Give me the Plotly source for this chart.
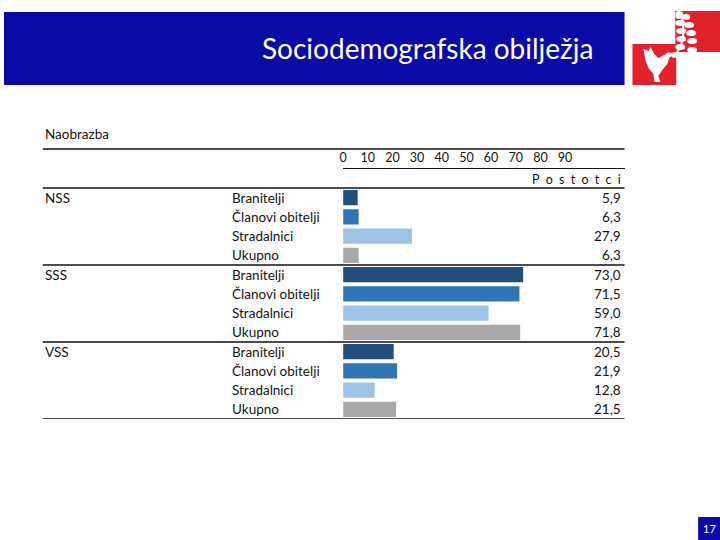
import plotly.graph_objects as go

# ---- data ----
groups = ["NSS", "SSS", "VSS"]
subgroups = ["Branitelji", "Članovi obitelji", "Stradalnici", "Ukupno"]
nss = [5.9, 6.3, 27.9, 6.3]
sss = [73.0, 71.5, 59.0, 71.8]
vss = [20.5, 21.9, 12.8, 21.5]
tick_vals = [0, 10, 20, 30, 40, 50, 60, 70, 80, 90]
sub_colors = ["#224E7B", "#2E75B6", "#9DC3E6", "#AAA8A9"]

title = "Sociodemografska obilježja"
section = "Naobrazba"
unit_label = "\u2002".join("Postotci")
page_no = "17"

W, H = 720, 540
FONT = "Lato, 'Open Sans', sans-serif"
TXT = "#141414"

def px(x):
    return x / W

def py(y):
    return 1 - y / H

values = nss + sss + vss
row_ids = list(range(len(values)))
colors = sub_colors * 3

fig = go.Figure()
fig.add_trace(go.Bar(
    x=values, y=row_ids, orientation="h",
    marker=dict(color=colors, line=dict(width=0)),
    width=0.8, hoverinfo="skip", showlegend=False,
))

x0, x1 = 341, 624
scale = 2.48  # px per percent
fig.update_layout(
    width=W, height=H,
    margin=dict(l=0, r=0, t=0, b=0),
    paper_bgcolor="white", plot_bgcolor="rgba(0,0,0,0)",
    font=dict(family=FONT, color=TXT),
    xaxis=dict(
        domain=[px(x0), px(x1)], range=[0, (x1 - x0) / scale],
        side="top", anchor="free", position=py(168),
        tickvals=tick_vals, ticktext=[str(v) for v in tick_vals],
        tickfont=dict(size=12.5, color=TXT),
        showgrid=False, zeroline=False, showline=True, linecolor=TXT, linewidth=1,
        ticks="", ticklabelstandoff=1,
        fixedrange=True,
    ),
    yaxis=dict(
        domain=[py(419), py(188)], range=[11.5, -0.5],
        showticklabels=False, showgrid=False, zeroline=False, showline=False,
        fixedrange=True,
    ),
)

def path_px(points):
    s = ""
    for i, (x, y) in enumerate(points):
        s += ("M" if i == 0 else "L") + f"{px(x):.5f},{py(y):.5f} "
    return s + "Z"

shapes = []
# header band
shapes.append(dict(type="rect", xref="paper", yref="paper",
                   x0=0, x1=px(624), y0=py(85), y1=py(12),
                   fillcolor="#0A0AA6", line=dict(width=0), layer="below"))
# logo squares
shapes.append(dict(type="rect", xref="paper", yref="paper",
                   x0=px(632), x1=px(676), y0=py(85), y1=py(44),
                   fillcolor="#E3212B", line=dict(width=0)))
shapes.append(dict(type="rect", xref="paper", yref="paper",
                   x0=px(675), x1=px(720), y0=py(52), y1=py(11),
                   fillcolor="#E3212B", line=dict(width=0)))
# dove
dove = [(643, 49), (648, 51), (650, 47), (654, 54), (658, 58), (664, 55), (668, 52),
        (674, 54), (669, 58), (667, 64), (662, 70), (658, 76), (660, 82), (654, 82),
        (653, 74), (648, 68), (645, 60)]
shapes.append(dict(type="path", xref="paper", yref="paper", path=path_px(dove),
                   fillcolor="white", line=dict(width=0)))
# branch stem
shapes.append(dict(type="path", xref="paper", yref="paper",
                   path=f"M{px(672):.5f},{py(57):.5f} Q{px(688):.5f},{py(45):.5f} {px(681):.5f},{py(14):.5f}",
                   line=dict(color="white", width=2)))
# leaves
leaves = [(679, 15, 4, 4), (686, 17, 4, 3), (680, 23, 5, 3), (689, 25, 5, 3),
          (681, 31, 5, 3), (691, 33, 5, 3), (681, 39, 5, 3), (692, 41, 5, 3),
          (680, 47, 5, 3), (692, 50, 5, 3), (676, 55, 5, 3), (688, 58, 5, 3),
          (682, 64, 5, 3), (695, 64, 4, 2)]
for cx, cy, rx, ry in leaves:
    shapes.append(dict(type="circle", xref="paper", yref="paper",
                       x0=px(cx - rx), x1=px(cx + rx), y0=py(cy + ry), y1=py(cy - ry),
                       fillcolor="white", line=dict(width=0)))
# page-number box
shapes.append(dict(type="rect", xref="paper", yref="paper",
                   x0=px(698), x1=px(720), y0=py(540), y1=py(517),
                   fillcolor="#0A0AA6", line=dict(width=0)))

# table rules
line_style = dict(color="#111111", width=1.5)
for yy in (149, 188):
    shapes.append(dict(type="line", xref="paper", yref="paper",
                       x0=px(39), x1=px(624), y0=py(yy), y1=py(yy), line=line_style))
for yv in (3.5, 7.5, 11.5):
    shapes.append(dict(type="line", xref="paper", yref="y",
                       x0=px(39), x1=px(624), y0=yv, y1=yv, line=line_style))
fig.update_layout(shapes=shapes)

ann = []
ann.append(dict(text=title, xref="paper", yref="paper", x=px(594), y=py(48),
                xanchor="right", yanchor="middle", showarrow=False,
                font=dict(size=28, color="white", family=FONT)))
ann.append(dict(text=page_no, xref="paper", yref="paper", x=px(709), y=py(528),
                xanchor="center", yanchor="middle", showarrow=False,
                font=dict(size=11, color="white", family=FONT)))
ann.append(dict(text=section, xref="paper", yref="paper", x=px(39), y=py(134),
                xanchor="left", yanchor="middle", showarrow=False,
                font=dict(size=13.5, color=TXT, family=FONT)))
ann.append(dict(text=unit_label, xref="paper", yref="paper", x=px(622), y=py(179),
                xanchor="right", yanchor="middle", showarrow=False,
                font=dict(size=12.5, color=TXT, family=FONT)))
for gi, g in enumerate(groups):
    ann.append(dict(text=g, xref="paper", yref="y", x=px(39), y=gi * 4,
                    xanchor="left", yanchor="middle", showarrow=False,
                    font=dict(size=13.5, color=TXT, family=FONT)))
for i, v in enumerate(values):
    ann.append(dict(text=subgroups[i % 4], xref="paper", yref="y", x=px(227), y=i,
                    xanchor="left", yanchor="middle", showarrow=False,
                    font=dict(size=13.5, color=TXT, family=FONT)))
    ann.append(dict(text=f"{v:.1f}".replace(".", ","), xref="paper", yref="y",
                    x=px(622), y=i, xanchor="right", yanchor="middle", showarrow=False,
                    font=dict(size=13.5, color=TXT, family=FONT)))
fig.update_layout(annotations=ann)

fig.write_html(
    "out.html",
    config={"displayModeBar": False},
    post_script="document.body.style.margin='0';document.body.style.overflow='hidden';",
)
